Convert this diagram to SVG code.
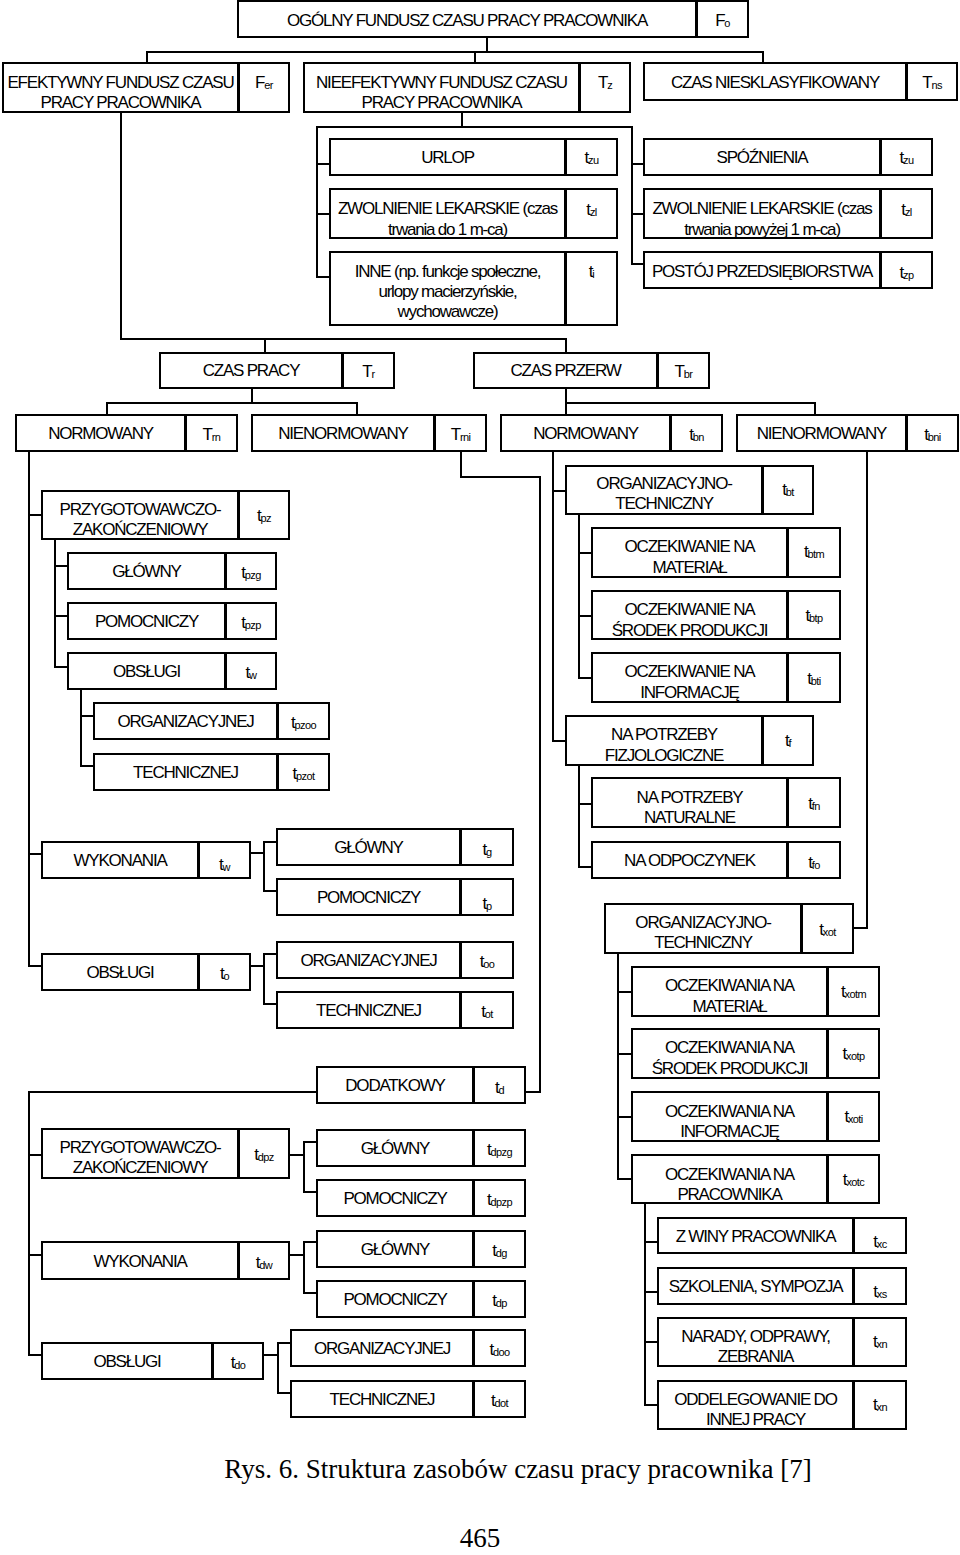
<svg xmlns="http://www.w3.org/2000/svg" width="960" height="1555" viewBox="0 0 960 1555">
<style>
rect{fill:#fff;stroke:#000;stroke-width:2}
text{font-family:"Liberation Sans",Arial,sans-serif;font-size:17px;letter-spacing:-1.2px;text-anchor:middle;fill:#000}
.s{font-size:11px;letter-spacing:-0.6px}
#connectors path{fill:none;stroke:#000;stroke-width:2}
.cap{font-family:"Liberation Serif","Times New Roman",serif;font-size:27px;letter-spacing:0}
</style>
<rect x="0" y="0" width="960" height="1555" style="fill:#fff;stroke:none"/>
<g id="connectors">
<path d="M487,37V52M147,63V52H763V63M475,52V63"/>
<path d="M121,112V339H566V353M265,339V353"/>
<path d="M462,112V127M330,277H317V127H632V264H644M317,164H330M317,214H330M632,164H644M632,214H644"/>
<path d="M252,388V403M107,415V403H357V415"/>
<path d="M566,388V415M566,403H815V415"/>
<path d="M29,451V966H42M29,515H42M29,854H42"/>
<path d="M55,539V667H68M55,566H68M55,616H68"/>
<path d="M81,689V766H94M81,716H94"/>
<path d="M250,853H264M277,842H264V891H277"/>
<path d="M250,966H264M277,954H264V1004H277"/>
<path d="M461,451V477H540V1092H525"/>
<path d="M317,1092H29V1355H42M29,1155H42M29,1255H42"/>
<path d="M289,1155H304M317,1142H304V1192H317"/>
<path d="M289,1255H304M317,1242H304V1293H317"/>
<path d="M263,1355H278M291,1343H278V1393H291"/>
<path d="M553,451V741H566M553,491H566"/>
<path d="M579,514V678H592M579,553H592M579,616H592"/>
<path d="M579,765V867H592M579,804H592"/>
<path d="M867,451V928H853"/>
<path d="M618,953V1179H632M618,992H632M618,1054H632M618,1117H632"/>
<path d="M645,1203V1405H658M645,1242H658M645,1292H658M645,1342H658"/>
</g>

<g id="n-ogolny"><rect x="238" y="1" width="458" height="36"/><rect x="697" y="1" width="51" height="36"/><text x="467" y="26">OGÓLNY FUNDUSZ CZASU PRACY PRACOWNIKA</text><text x="722.5" y="26">F<tspan class="s" dy="1">o</tspan></text></g>
<g id="n-efekt"><rect x="3" y="63" width="235" height="49"/><rect x="239" y="63" width="50" height="49"/><text x="120.5" y="88">EFEKTYWNY FUNDUSZ CZASU</text><text x="120.5" y="108">PRACY PRACOWNIKA</text><text x="264" y="88">F<tspan class="s" dy="1">er</tspan></text></g>
<g id="n-nieefekt"><rect x="304" y="63" width="275" height="49"/><rect x="580" y="63" width="50" height="49"/><text x="441.5" y="88">NIEEFEKTYWNY FUNDUSZ CZASU</text><text x="441.5" y="108">PRACY PRACOWNIKA</text><text x="605" y="88">T<tspan class="s" dy="1">z</tspan></text></g>
<g id="n-niesklas"><rect x="644" y="63" width="262" height="37"/><rect x="907" y="63" width="50" height="37"/><text x="775" y="88">CZAS NIESKLASYFIKOWANY</text><text x="932" y="88">T<tspan class="s" dy="1">ns</tspan></text></g>

<g id="n-urlop"><rect x="330" y="139" width="235" height="36"/><rect x="566" y="139" width="51" height="36"/><text x="447.5" y="163">URLOP</text><text x="591.5" y="163">t<tspan class="s" dy="1">zu</tspan></text></g>
<g id="n-zwol1"><rect x="330" y="189" width="235" height="49"/><rect x="566" y="189" width="51" height="49"/><text x="447.5" y="214">ZWOLNIENIE LEKARSKIE (czas</text><text x="447.5" y="235">trwania do 1 m-ca)</text><text x="591.5" y="215">t<tspan class="s" dy="1">zl</tspan></text></g>
<g id="n-inne"><rect x="330" y="252" width="235" height="73"/><rect x="566" y="252" width="51" height="73"/><text x="447.5" y="277">INNE (np. funkcje społeczne,</text><text x="447.5" y="297">urlopy macierzyńskie,</text><text x="447.5" y="317">wychowawcze)</text><text x="591.5" y="277">t<tspan class="s" dy="1">i</tspan></text></g>
<g id="n-spoz"><rect x="644" y="139" width="236" height="36"/><rect x="881" y="139" width="51" height="36"/><text x="762" y="163">SPÓŹNIENIA</text><text x="906.5" y="163">t<tspan class="s" dy="1">zu</tspan></text></g>
<g id="n-zwol2"><rect x="644" y="189" width="236" height="49"/><rect x="881" y="189" width="51" height="49"/><text x="762" y="214">ZWOLNIENIE LEKARSKIE (czas</text><text x="762" y="235">trwania powyżej 1 m-ca)</text><text x="906.5" y="215">t<tspan class="s" dy="1">zl</tspan></text></g>
<g id="n-postoj"><rect x="644" y="252" width="236" height="36"/><rect x="881" y="252" width="51" height="36"/><text x="762" y="277">POSTÓJ PRZEDSIĘBIORSTWA</text><text x="906.5" y="278">t<tspan class="s" dy="1">zp</tspan></text></g>

<g id="n-czaspracy"><rect x="160" y="353" width="182" height="35"/><rect x="343" y="353" width="51" height="35"/><text x="251" y="376">CZAS PRACY</text><text x="368.5" y="377">T<tspan class="s" dy="1">r</tspan></text></g>
<g id="n-czasprzerw"><rect x="474" y="353" width="183" height="35"/><rect x="658" y="353" width="51" height="35"/><text x="565.5" y="376">CZAS PRZERW</text><text x="683.5" y="377">T<tspan class="s" dy="1">br</tspan></text></g>
<g id="n-norm1"><rect x="16" y="415" width="169" height="36"/><rect x="186" y="415" width="51" height="36"/><text x="100.5" y="439">NORMOWANY</text><text x="211.5" y="440">T<tspan class="s" dy="1">rn</tspan></text></g>
<g id="n-nienorm1"><rect x="252" y="415" width="182" height="36"/><rect x="435" y="415" width="51" height="36"/><text x="343" y="439">NIENORMOWANY</text><text x="460.5" y="440">T<tspan class="s" dy="1">rni</tspan></text></g>
<g id="n-norm2"><rect x="501" y="415" width="169" height="36"/><rect x="671" y="415" width="51" height="36"/><text x="585.5" y="439">NORMOWANY</text><text x="696.5" y="440">t<tspan class="s" dy="1">bn</tspan></text></g>
<g id="n-nienorm2"><rect x="737" y="415" width="169" height="36"/><rect x="907" y="415" width="51" height="36"/><text x="821.5" y="439">NIENORMOWANY</text><text x="932.5" y="440">t<tspan class="s" dy="1">bni</tspan></text></g>

<g id="n-przyg1"><rect x="42" y="491" width="196" height="48"/><rect x="239" y="491" width="50" height="48"/><text x="140" y="515">PRZYGOTOWAWCZO-</text><text x="140" y="535">ZAKOŃCZENIOWY</text><text x="264" y="521">t<tspan class="s" dy="1">pz</tspan></text></g>
<g id="n-glowny1"><rect x="68" y="553" width="157" height="36"/><rect x="226" y="553" width="50" height="36"/><text x="146.5" y="577">GŁÓWNY</text><text x="251" y="578">t<tspan class="s" dy="1">pzg</tspan></text></g>
<g id="n-pomoc1"><rect x="68" y="603" width="157" height="36"/><rect x="226" y="603" width="50" height="36"/><text x="146.5" y="627">POMOCNICZY</text><text x="251" y="628">t<tspan class="s" dy="1">pzp</tspan></text></g>
<g id="n-obsl1"><rect x="68" y="653" width="157" height="36"/><rect x="226" y="653" width="50" height="36"/><text x="146.5" y="677">OBSŁUGI</text><text x="251" y="678">t<tspan class="s" dy="1">w</tspan></text></g>
<g id="n-org1"><rect x="94" y="703" width="183" height="36"/><rect x="278" y="703" width="51" height="36"/><text x="185.5" y="727">ORGANIZACYJNEJ</text><text x="303.5" y="728">t<tspan class="s" dy="1">pzoo</tspan></text></g>
<g id="n-tech1"><rect x="94" y="754" width="183" height="36"/><rect x="278" y="754" width="51" height="36"/><text x="185.5" y="778">TECHNICZNEJ</text><text x="303.5" y="779">t<tspan class="s" dy="1">pzot</tspan></text></g>
<g id="n-wyk1"><rect x="42" y="842" width="156" height="36"/><rect x="199" y="842" width="51" height="36"/><text x="120" y="866">WYKONANIA</text><text x="224.5" y="870">t<tspan class="s" dy="1">w</tspan></text></g>
<g id="n-glowny2"><rect x="277" y="829" width="183" height="36"/><rect x="461" y="829" width="52" height="36"/><text x="368.5" y="853">GŁÓWNY</text><text x="487" y="855">t<tspan class="s" dy="1">g</tspan></text></g>
<g id="n-pomoc2"><rect x="277" y="879" width="183" height="36"/><rect x="461" y="879" width="52" height="36"/><text x="368.5" y="903">POMOCNICZY</text><text x="487" y="909">t<tspan class="s" dy="1">p</tspan></text></g>
<g id="n-obsl2"><rect x="42" y="954" width="156" height="36"/><rect x="199" y="954" width="51" height="36"/><text x="120" y="978">OBSŁUGI</text><text x="224.5" y="979">t<tspan class="s" dy="1">o</tspan></text></g>
<g id="n-org2"><rect x="277" y="942" width="183" height="36"/><rect x="461" y="942" width="52" height="36"/><text x="368.5" y="966">ORGANIZACYJNEJ</text><text x="487" y="967">t<tspan class="s" dy="1">oo</tspan></text></g>
<g id="n-tech2"><rect x="277" y="992" width="183" height="36"/><rect x="461" y="992" width="52" height="36"/><text x="368.5" y="1016">TECHNICZNEJ</text><text x="487" y="1017">t<tspan class="s" dy="1">ot</tspan></text></g>

<g id="n-dodat"><rect x="317" y="1067" width="156" height="36"/><rect x="474" y="1067" width="51" height="36"/><text x="395" y="1091">DODATKOWY</text><text x="499.5" y="1093">t<tspan class="s" dy="1">d</tspan></text></g>
<g id="n-przyg2"><rect x="42" y="1129" width="196" height="49"/><rect x="239" y="1129" width="50" height="49"/><text x="140" y="1153">PRZYGOTOWAWCZO-</text><text x="140" y="1173">ZAKOŃCZENIOWY</text><text x="264" y="1160">t<tspan class="s" dy="1">dpz</tspan></text></g>
<g id="n-glowny3"><rect x="317" y="1130" width="156" height="36"/><rect x="474" y="1130" width="51" height="36"/><text x="395" y="1154">GŁÓWNY</text><text x="499.5" y="1155">t<tspan class="s" dy="1">dpzg</tspan></text></g>
<g id="n-pomoc3"><rect x="317" y="1180" width="156" height="36"/><rect x="474" y="1180" width="51" height="36"/><text x="395" y="1204">POMOCNICZY</text><text x="499.5" y="1205">t<tspan class="s" dy="1">dpzp</tspan></text></g>
<g id="n-wyk2"><rect x="42" y="1242" width="196" height="37"/><rect x="239" y="1242" width="50" height="37"/><text x="140" y="1267">WYKONANIA</text><text x="264" y="1268">t<tspan class="s" dy="1">dw</tspan></text></g>
<g id="n-glowny4"><rect x="317" y="1231" width="156" height="36"/><rect x="474" y="1231" width="51" height="36"/><text x="395" y="1255">GŁÓWNY</text><text x="499.5" y="1256">t<tspan class="s" dy="1">dg</tspan></text></g>
<g id="n-pomoc4"><rect x="317" y="1281" width="156" height="36"/><rect x="474" y="1281" width="51" height="36"/><text x="395" y="1305">POMOCNICZY</text><text x="499.5" y="1306">t<tspan class="s" dy="1">dp</tspan></text></g>
<g id="n-obsl3"><rect x="42" y="1343" width="170" height="36"/><rect x="213" y="1343" width="50" height="36"/><text x="127" y="1367">OBSŁUGI</text><text x="238" y="1368">t<tspan class="s" dy="1">do</tspan></text></g>
<g id="n-org3"><rect x="291" y="1330" width="182" height="36"/><rect x="474" y="1330" width="51" height="36"/><text x="382" y="1354">ORGANIZACYJNEJ</text><text x="499.5" y="1355">t<tspan class="s" dy="1">doo</tspan></text></g>
<g id="n-tech3"><rect x="291" y="1381" width="182" height="36"/><rect x="474" y="1381" width="51" height="36"/><text x="382" y="1405">TECHNICZNEJ</text><text x="499.5" y="1406">t<tspan class="s" dy="1">dot</tspan></text></g>

<g id="n-orgtech1"><rect x="566" y="466" width="196" height="48"/><rect x="763" y="466" width="50" height="48"/><text x="664" y="489">ORGANIZACYJNO-</text><text x="664" y="509">TECHNICZNY</text><text x="788" y="495">t<tspan class="s" dy="1">bt</tspan></text></g>
<g id="n-mat1"><rect x="592" y="528" width="195" height="49"/><rect x="788" y="528" width="52" height="49"/><text x="689.5" y="552">OCZEKIWANIE NA</text><text x="689.5" y="573">MATERIAŁ</text><text x="814" y="557">t<tspan class="s" dy="1">btm</tspan></text></g>
<g id="n-srodek1"><rect x="592" y="591" width="195" height="48"/><rect x="788" y="591" width="52" height="48"/><text x="689.5" y="615">OCZEKIWANIE NA</text><text x="689.5" y="636">ŚRODEK PRODUKCJI</text><text x="814" y="621">t<tspan class="s" dy="1">btp</tspan></text></g>
<g id="n-info1"><rect x="592" y="653" width="195" height="49"/><rect x="788" y="653" width="52" height="49"/><text x="689.5" y="677">OCZEKIWANIE NA</text><text x="689.5" y="698">INFORMACJĘ</text><text x="814" y="684">t<tspan class="s" dy="1">bti</tspan></text></g>
<g id="n-fizjo"><rect x="566" y="716" width="196" height="49"/><rect x="763" y="716" width="50" height="49"/><text x="664" y="740">NA POTRZEBY</text><text x="664" y="761">FIZJOLOGICZNE</text><text x="788" y="746">t<tspan class="s" dy="1">f</tspan></text></g>
<g id="n-natur"><rect x="592" y="778" width="195" height="49"/><rect x="788" y="778" width="52" height="49"/><text x="689.5" y="803">NA POTRZEBY</text><text x="689.5" y="823">NATURALNE</text><text x="814" y="809">t<tspan class="s" dy="1">fn</tspan></text></g>
<g id="n-odpocz"><rect x="592" y="842" width="195" height="36"/><rect x="788" y="842" width="52" height="36"/><text x="689.5" y="866">NA ODPOCZYNEK</text><text x="814" y="868">t<tspan class="s" dy="1">fo</tspan></text></g>
<g id="n-orgtech2"><rect x="605" y="904" width="196" height="49"/><rect x="802" y="904" width="51" height="49"/><text x="703" y="928">ORGANIZACYJNO-</text><text x="703" y="948">TECHNICZNY</text><text x="827.5" y="935">t<tspan class="s" dy="1">xot</tspan></text></g>
<g id="n-mat2"><rect x="632" y="967" width="195" height="49"/><rect x="828" y="967" width="51" height="49"/><text x="729.5" y="991">OCZEKIWANIA NA</text><text x="729.5" y="1012">MATERIAŁ</text><text x="853.5" y="997">t<tspan class="s" dy="1">xotm</tspan></text></g>
<g id="n-srodek2"><rect x="632" y="1029" width="195" height="49"/><rect x="828" y="1029" width="51" height="49"/><text x="729.5" y="1053">OCZEKIWANIA NA</text><text x="729.5" y="1074">ŚRODEK PRODUKCJI</text><text x="853.5" y="1059">t<tspan class="s" dy="1">xotp</tspan></text></g>
<g id="n-info2"><rect x="632" y="1092" width="195" height="49"/><rect x="828" y="1092" width="51" height="49"/><text x="729.5" y="1117">OCZEKIWANIA NA</text><text x="729.5" y="1137">INFORMACJĘ</text><text x="853.5" y="1122">t<tspan class="s" dy="1">xoti</tspan></text></g>
<g id="n-prac"><rect x="632" y="1155" width="195" height="48"/><rect x="828" y="1155" width="51" height="48"/><text x="729.5" y="1180">OCZEKIWANIA NA</text><text x="729.5" y="1200">PRACOWNIKA</text><text x="853.5" y="1185">t<tspan class="s" dy="1">xotc</tspan></text></g>
<g id="n-zwiny"><rect x="658" y="1218" width="195" height="35"/><rect x="854" y="1218" width="52" height="35"/><text x="755.5" y="1242">Z WINY PRACOWNIKA</text><text x="880" y="1247">t<tspan class="s" dy="1">xc</tspan></text></g>
<g id="n-szkol"><rect x="658" y="1268" width="195" height="36"/><rect x="854" y="1268" width="52" height="36"/><text x="755.5" y="1292">SZKOLENIA, SYMPOZJA</text><text x="880" y="1297">t<tspan class="s" dy="1">xs</tspan></text></g>
<g id="n-narady"><rect x="658" y="1318" width="195" height="48"/><rect x="854" y="1318" width="52" height="48"/><text x="755.5" y="1342">NARADY, ODPRAWY,</text><text x="755.5" y="1362">ZEBRANIA</text><text x="880" y="1347">t<tspan class="s" dy="1">xn</tspan></text></g>
<g id="n-oddel"><rect x="658" y="1381" width="195" height="48"/><rect x="854" y="1381" width="52" height="48"/><text x="755.5" y="1405">ODDELEGOWANIE DO</text><text x="755.5" y="1425">INNEJ PRACY</text><text x="880" y="1410">t<tspan class="s" dy="1">xn</tspan></text></g>

<text class="cap" x="518" y="1478">Rys. 6. Struktura zasobów czasu pracy pracownika [7]</text>
<text class="cap" x="480" y="1547">465</text>
</svg>
